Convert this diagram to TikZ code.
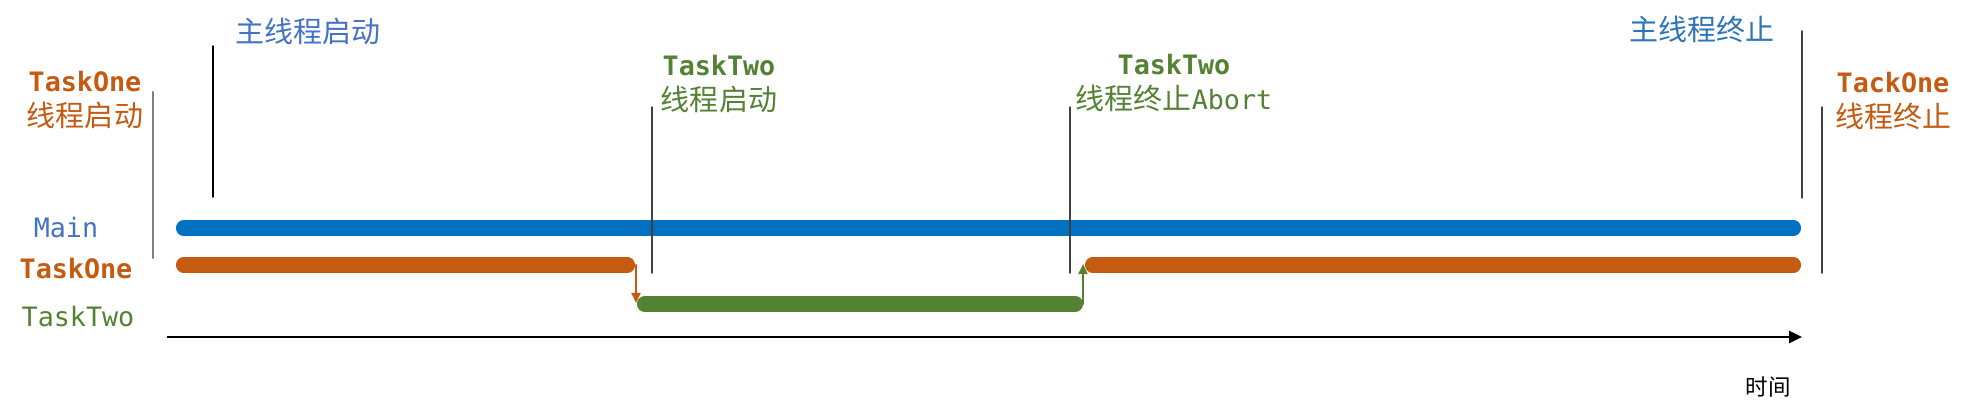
\documentclass[tikz,border=0pt]{standalone}
\usepackage{fontspec}
\setmonofont{DejaVu Sans Mono}
\newfontfamily\cjk{Noto Sans CJK SC}
\usepackage{tikz}
\usetikzlibrary{arrows.meta}
\definecolor{mainblue}{HTML}{0070C0}
\definecolor{oneorange}{HTML}{C55A11}
\definecolor{twogreen}{HTML}{548235}
\definecolor{labelblue}{HTML}{4472C4}
\definecolor{endblue}{HTML}{2E75B6}
\definecolor{markgray}{HTML}{7F7F7F}
\definecolor{markdark}{HTML}{404040}

\begin{document}
\begin{tikzpicture}[line cap=round,line join=round,x=0.01cm,y=-0.01cm,
  bar/.style={line width=4.3pt},
  hop/.style={line width=0.6pt,-{Triangle[length=2.9pt,width=2.6pt]}},
  marker/.style={line width=0.4pt,color=markdark},
  code/.style={font=\ttfamily\fontsize{7.6}{9.4}\selectfont,inner sep=0pt},
  han/.style={font=\cjk\fontsize{8.25}{9.4}\selectfont,inner sep=0pt},
  event/.style={align=center,inner sep=0pt,font=\cjk\fontsize{8.25}{10.2}\selectfont}]
\useasboundingbox (0,0) rectangle (1973,412);
% bar end points
\coordinate (mainL) at (183.5,228);
\coordinate (mainR) at (1793.5,228);
\coordinate (oneL) at (183.5,265);
\coordinate (oneA) at (627.5,265);
\coordinate (twoA) at (644.5,304);
\coordinate (twoB) at (1075.5,304);
\coordinate (oneB) at (1092.5,265);
\coordinate (oneR) at (1793.5,265);
\coordinate (oneStop) at (636,265);
\coordinate (twoGo) at (636,303);
\coordinate (twoStop) at (1083,304);
\coordinate (oneGo) at (1083,264);
\coordinate (t0) at (167,337);
\coordinate (t1) at (1802,337);
% threads
\draw [bar,color=mainblue] (mainL) -- (mainR);
\draw [bar,color=oneorange] (oneL) -- (oneA);
\draw [bar,color=twogreen] (twoA) -- (twoB);
\draw [bar,color=oneorange] (oneB) -- (oneR);
\draw [hop,color=oneorange] (oneStop) -- (twoGo);
\draw [hop,color=twogreen] (twoStop) -- (oneGo);
% time axis
\draw [line width=0.8pt,line cap=butt,-{Triangle[length=3.7pt,width=3.4pt]}] (t0) -- (t1);
% event marks
\draw [line width=0.6pt,color=markgray] (153,92) -- (153,258);
\draw [line width=0.4pt] (213,46) -- (213,197);
\draw [marker] (652,107) -- (652,273);
\draw [marker] (1070,107) -- (1070,273);
\draw [marker] (1802,31) -- (1802,198);
\draw [marker] (1822,107) -- (1822,273);
% labels
\node [code,color=labelblue] (mainName) at (66,228) {Main};
\node [code,color=oneorange,font=\ttfamily\bfseries\fontsize{7.6}{9.4}\selectfont] (oneName) at (76,269) {TaskOne};
\node [code,color=twogreen] (twoName) at (78,317) {TaskTwo};
\node [han,color=labelblue] (mainStart) at (308,31) {主线程启动};
\node [han,color=endblue] (mainEnd) at (1702,29) {主线程终止};
\node [event,color=oneorange] (oneStart) at (85,100) {{\ttfamily\bfseries\fontsize{7.6}{9.4}\selectfont TaskOne}\\线程启动};
\node [event,color=twogreen] (twoStart) at (719,84) {{\ttfamily\bfseries\fontsize{7.6}{9.4}\selectfont TaskTwo}\\线程启动};
\node [event,color=twogreen] (twoEnd) at (1174,83) {{\ttfamily\bfseries\fontsize{7.6}{9.4}\selectfont TaskTwo}\\线程终止{\ttfamily\fontsize{7.6}{9.4}\selectfont Abort}};
\node [event,color=oneorange] (oneEnd) at (1893,101) {{\ttfamily\bfseries\fontsize{7.6}{9.4}\selectfont TackOne}\\线程终止};
\node [han,font=\cjk\fontsize{6.4}{8}\selectfont] (timeName) at (1768,387) {时间};
\end{tikzpicture}
\end{document}
